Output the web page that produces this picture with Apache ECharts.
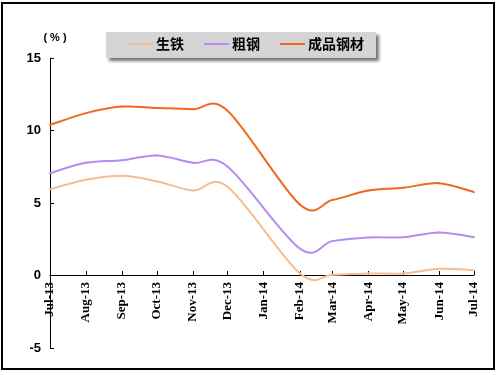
<!DOCTYPE html>
<html>
<head>
<meta charset="utf-8">
<script src="https://cdn.jsdelivr.net/npm/echarts@6/dist/echarts.min.js"></script>
<style>
html,body{margin:0;padding:0;background:#fff;}
#chart{width:498px;height:375px;}
</style>
</head>
<body>
<div id="chart"></div>
<script>
// Dates (Jan-14 not reported; Jan-Feb combined)
const dates = ['2013-07-01','2013-08-01','2013-09-01','2013-10-01','2013-11-01','2013-12-01',
               '2014-02-01','2014-03-01','2014-04-01','2014-05-01','2014-06-01','2014-07-01'];
const seriesNames = ['生铁', '粗钢', '成品钢材'];
const pigIron   = [5.95, 6.6, 6.88, 6.5, 5.86, 6.1, 0.15, 0.05, 0.14, 0.14, 0.46, 0.37];
const crudeSteel= [7.06, 7.77, 7.95, 8.28, 7.77, 7.5, 1.86, 2.37, 2.62, 2.64, 2.97, 2.64];
const steelProd = [10.38, 11.2, 11.65, 11.56, 11.46, 11.35, 4.9, 5.2, 5.86, 6.05, 6.37, 5.75];
const yTicks = { min: -5, max: 15, interval: 5 };
const monthNames = ['Jan','Feb','Mar','Apr','May','Jun','Jul','Aug','Sep','Oct','Nov','Dec'];
const colors = ['#F5BD92', '#B48CF2', '#F0691E'];

const times = dates.map(d => echarts.number.parseDate(d).getTime());
function pair(vals) { return times.map((t, i) => [t, vals[i]]); }

// Excel-like smoothed line (Catmull-Rom Bezier, tension 1/6) drawn through axis coordinates
function smoothSeries(name, vals, color) {
  return {
    name: name,
    type: 'custom',
    data: pair(vals),
    encode: { x: 0, y: 1 },
    itemStyle: { color: color },
    clip: false,
    renderItem: function (params, api) {
      const i = params.dataIndex;
      if (i === 0) return { type: 'group', children: [] };
      const p = j => {
        const k = Math.max(0, Math.min(vals.length - 1, j));
        return api.coord([times[k], vals[k]]);
      };
      const pm = p(i - 2), p0 = p(i - 1), p1 = p(i), p2 = p(i + 1);
      const c1 = [p0[0] + (p1[0] - pm[0]) / 6, p0[1] + (p1[1] - pm[1]) / 6];
      const c2 = [p1[0] - (p2[0] - p0[0]) / 6, p1[1] - (p2[1] - p0[1]) / 6];
      return {
        type: 'bezierCurve',
        shape: { x1: p0[0], y1: p0[1], cpx1: c1[0], cpy1: c1[1], cpx2: c2[0], cpy2: c2[1], x2: p1[0], y2: p1[1] },
        style: { fill: null, stroke: color, lineWidth: 2, lineCap: 'round' }
      };
    }
  };
}

const chart = echarts.init(document.getElementById('chart'));
chart.setOption({
  animation: false,
  backgroundColor: '#fff',
  graphic: [
    { type: 'rect', z: 0, shape: { x: 2, y: 3, width: 492, height: 366 },
      style: { fill: 'none', stroke: '#000', lineWidth: 2 } },
    { type: 'rect', z: 0, shape: { x: 106, y: 32, width: 270, height: 26 },
      style: { fill: '#D4D4D4', shadowBlur: 3, shadowOffsetX: 3, shadowOffsetY: 3,
               shadowColor: 'rgba(0,0,0,0.55)' } }
  ],
  legend: {
    z: 10,
    left: 128, top: 37,
    padding: 0,
    itemGap: 20,
    itemWidth: 25,
    itemHeight: 2,
    icon: 'rect',
    data: seriesNames,
    textStyle: { fontFamily: 'Noto Sans CJK SC', fontWeight: 'bold', fontSize: 14, color: '#000', padding: [0,0,0,-2] }
  },
  grid: { left: 50, top: 58, width: 424, height: 290, containLabel: false, outerBoundsMode: 'none' },
  xAxis: {
    type: 'time',
    min: times[0],
    max: times[times.length - 1],
    splitNumber: 12,
    minInterval: 28 * 86400000,
    maxInterval: 31 * 86400000,
    offset: -73,
    axisLine: { onZero: false, lineStyle: { color: '#000', width: 1 } },
    axisTick: { show: true, inside: true, length: 4, lineStyle: { color: '#000' } },
    splitLine: { show: false },
    axisLabel: {
      rotate: 90,
      margin: 7,
      showMinLabel: true,
      showMaxLabel: true,
      hideOverlap: false,
      fontFamily: 'Liberation Serif',
      fontWeight: 'bold',
      fontSize: 13,
      color: '#000',
      formatter: function (v) {
        const d = new Date(v);
        return monthNames[d.getMonth()] + '-' + String(d.getFullYear()).slice(2);
      }
    }
  },
  yAxis: {
    type: 'value',
    min: yTicks.min, max: yTicks.max, interval: yTicks.interval,
    name: '( % )',
    nameGap: 15,
    nameTextStyle: { fontFamily: 'Liberation Sans', fontWeight: 'bold', fontSize: 11, color: '#000', padding: [0, 0, 0, 10] },
    axisLine: { show: true, lineStyle: { color: '#000', width: 1 } },
    axisTick: { show: true, inside: true, length: 4, lineStyle: { color: '#000' } },
    splitLine: { show: false },
    axisLabel: { margin: 9, fontFamily: 'Liberation Sans', fontWeight: 'bold', fontSize: 13, color: '#000' }
  },
  series: [
    smoothSeries(seriesNames[0], pigIron, colors[0]),
    smoothSeries(seriesNames[1], crudeSteel, colors[1]),
    smoothSeries(seriesNames[2], steelProd, colors[2])
  ]
});
</script>
</body>
</html>
